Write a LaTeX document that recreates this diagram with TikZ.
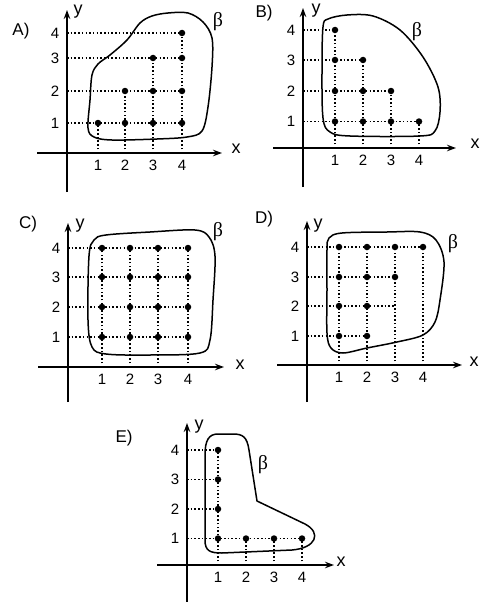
\documentclass[tikz,border=0pt]{standalone}
\usepackage{fontspec}
\setmainfont{Liberation Sans}
\newfontfamily\betafont{Liberation Serif}
\usetikzlibrary{arrows.meta}
\begin{document}
\begin{tikzpicture}[x=1pt,y=-1pt,
  axis/.style={line width=1.3pt,-{Stealth[length=9pt,width=6.5pt]}},
  gridline/.style={line width=1.3pt,dash pattern=on 1.5pt off 2.2pt},
  dotpt/.style={circle,fill,inner sep=0pt,minimum size=6.5pt},
  tick/.style={font=\fontsize{15}{15}\selectfont,inner sep=0pt},
  axlab/.style={font=\fontsize{18}{18}\selectfont,inner sep=0pt},
  panel/.style={font=\fontsize{17}{17}\selectfont,inner sep=0pt},
  betalab/.style={font=\betafont\fontsize{20}{20}\selectfont,inner sep=0pt},
  region/.style={line width=1.5pt,line join=round}]
\useasboundingbox (0,0) rectangle (481,602);
\fill[white] (0,0) rectangle (481,602);

% ---------- generic coordinates ----------
% Panel A
\coordinate (A-o) at (67,153);
\coordinate (A-x1) at (98,153); \coordinate (A-x2) at (125,153);
\coordinate (A-x3) at (153,153); \coordinate (A-x4) at (182,153);
\coordinate (A-y1) at (67,123); \coordinate (A-y2) at (67,91);
\coordinate (A-y3) at (67,58); \coordinate (A-y4) at (67,33);
% Panel B
\coordinate (B-o) at (303,148);
\coordinate (B-x1) at (335,148); \coordinate (B-x2) at (363,148);
\coordinate (B-x3) at (391,148); \coordinate (B-x4) at (419,148);
\coordinate (B-y1) at (303,121.5); \coordinate (B-y2) at (303,91);
\coordinate (B-y3) at (303,60); \coordinate (B-y4) at (303,30);
% Panel C
\coordinate (C-o) at (68,367);
\coordinate (C-x1) at (102,367); \coordinate (C-x2) at (130,367);
\coordinate (C-x3) at (158,367); \coordinate (C-x4) at (188,367);
\coordinate (C-y1) at (68,337); \coordinate (C-y2) at (68,307);
\coordinate (C-y3) at (68,277); \coordinate (C-y4) at (68,248);
% Panel D
\coordinate (D-o) at (307,365);
\coordinate (D-x1) at (339,365); \coordinate (D-x2) at (367,365);
\coordinate (D-x3) at (395,365); \coordinate (D-x4) at (423,365);
\coordinate (D-y1) at (307,336); \coordinate (D-y2) at (307,306);
\coordinate (D-y3) at (307,277); \coordinate (D-y4) at (307,247);
% Panel E
\coordinate (E-o) at (187,565);
\coordinate (E-x1) at (218,565); \coordinate (E-x2) at (246,565);
\coordinate (E-x3) at (274,565); \coordinate (E-x4) at (302,565);
\coordinate (E-y1) at (187,538.5); \coordinate (E-y2) at (187,509);
\coordinate (E-y3) at (187,479.5); \coordinate (E-y4) at (187,450);

% ---------- axes ----------
\draw[axis] (37,153) -- (222,153);  \draw[axis] (67,192) -- (67,10);
\draw[axis] (273,148) -- (456,148); \draw[axis] (303,187) -- (303,8);
\draw[axis] (38,367) -- (224,367);  \draw[axis] (68,402) -- (68,223);
\draw[axis] (277,365) -- (462,365); \draw[axis] (307,402) -- (307,221);
\draw[axis] (157,565) -- (334,565); \draw[axis] (187,602) -- (187,423);

% ---------- tick labels ----------
\foreach \p in {A,B,C,D,E}{
  \foreach \i in {1,2,3,4}{
    \node[tick] at ([yshift=-12pt]\p-x\i) {\i};
    \node[tick] at ([xshift=-12pt]\p-y\i) {\i};
  }
}

% ---------- axis letters, panel letters, beta ----------
\node[axlab] (A-xl) at (236,149) {x}; \node[axlab] (A-yl) at (78,12) {y};
\node[axlab] (B-xl) at (475,144) {x}; \node[axlab] (B-yl) at (316,11) {y};
\node[axlab] (C-xl) at (240,365) {x}; \node[axlab] (C-yl) at (80,226) {y};
\node[axlab] (D-xl) at (474,362) {x}; \node[axlab] (D-yl) at (318,226) {y};
\node[axlab] (E-xl) at (341,562) {x}; \node[axlab] (E-yl) at (199,427) {y};

\node[panel] (A-lab) at (21,31) {A)};
\node[panel] (B-lab) at (264,13) {B)};
\node[panel] (C-lab) at (28,224) {C)};
\node[panel] (D-lab) at (264,219) {D)};
\node[panel] (E-lab) at (124,438) {E)};

\node[betalab] (A-b) at (218,22) {β};
\node[betalab] (B-b) at (417,32) {β};
\node[betalab] (C-b) at (218,232) {β};
\node[betalab] (D-b) at (453,244) {β};
\node[betalab] (E-b) at (263,465) {β};

% ---------- dotted guide lines ----------
% A
\foreach \j/\i in {1/4,2/4,3/4,4/4} \draw[gridline] (A-y\j) -- (A-x\i |- A-y\j);
\foreach \i/\j in {1/1,2/2,3/3,4/4} \draw[gridline] (A-x\i) -- (A-x\i |- A-y\j);
% B
\foreach \j/\i in {1/4,2/3,3/2,4/1} \draw[gridline] (B-y\j) -- (B-x\i |- B-y\j);
\foreach \i/\j in {1/4,2/3,3/2,4/1} \draw[gridline] (B-x\i) -- (B-x\i |- B-y\j);
% C
\foreach \j/\i in {1/4,2/4,3/4,4/4} \draw[gridline] (C-y\j) -- (C-x\i |- C-y\j);
\foreach \i/\j in {1/4,2/4,3/4,4/4} \draw[gridline] (C-x\i) -- (C-x\i |- C-y\j);
% D
\foreach \j/\i in {1/2,2/3,3/3,4/4} \draw[gridline] (D-y\j) -- (D-x\i |- D-y\j);
\foreach \i/\j in {1/4,2/4,3/4,4/4} \draw[gridline] (D-x\i) -- (D-x\i |- D-y\j);
% E
\foreach \j/\i in {1/4,2/1,3/1,4/1} \draw[gridline] (E-y\j) -- (E-x\i |- E-y\j);
\foreach \i/\j in {1/4,2/1,3/1,4/1} \draw[gridline] (E-x\i) -- (E-x\i |- E-y\j);

% ---------- points ----------
\foreach \i/\j in {1/1,2/1,3/1,4/1,2/2,3/2,4/2,3/3,4/3,4/4}
  \node[dotpt] (A-p\i\j) at (A-x\i |- A-y\j) {};
\foreach \i/\j in {1/1,1/2,1/3,1/4,2/1,2/2,2/3,3/1,3/2,4/1}
  \node[dotpt] (B-p\i\j) at (B-x\i |- B-y\j) {};
\foreach \i in {1,2,3,4}{\foreach \j in {1,2,3,4}{
  \node[dotpt] (C-p\i\j) at (C-x\i |- C-y\j) {};}}
\foreach \i/\j in {1/1,1/2,1/3,1/4,2/1,2/2,2/3,2/4,3/3,3/4,4/4}
  \node[dotpt] (D-p\i\j) at (D-x\i |- D-y\j) {};
\foreach \i/\j in {1/1,1/2,1/3,1/4,2/1,3/1,4/1}
  \node[dotpt] (E-p\i\j) at (E-x\i |- E-y\j) {};

% ---------- regions beta ----------
\draw[region] plot[smooth cycle,tension=0.55] coordinates {
  (88,128) (90,100) (92,75) (98,64) (110,55) (127,40) (140,23) (152,16)
  (168,13) (188,13) (203,22) (212,38) (212,67) (208,107) (202,131)
  (187,137) (157,139) (112,140) (94,137)};
\draw[region] plot[smooth cycle,tension=0.55] coordinates {
  (328,19) (347,15) (373,16) (400,30) (423,57) (438,87) (440,112)
  (435,131) (420,136) (350,136) (330,132) (323,118) (322,70) (323,27)};
\draw[region] plot[smooth cycle,tension=0.55] coordinates {
  (89,256) (94,240) (106,235) (150,232) (195,230) (209,237) (215,256)
  (213,300) (210,340) (200,353) (150,355) (106,354) (92,347) (88,320)};
\draw[region] plot[smooth cycle,tension=0.55] coordinates {
  (329,238) (342,233) (387,232) (420,232) (436,240) (444,262) (440,300)
  (435,322) (423,335) (397,342) (367,348) (343,353) (331,348) (327,333)
  (327,290) (327,250)};
\draw[region] (205,455) -- (205,540) .. controls (205,551) and (210,553) .. (222,553)
  -- (292,550) .. controls (316,548) and (322,533) .. (305,524)
  -- (257,501) -- (249,450) .. controls (247,437) and (243,434) .. (233,434)
  -- (218,434) .. controls (209,434) and (205,440) .. (205,455) -- cycle;
\end{tikzpicture}
\end{document}
